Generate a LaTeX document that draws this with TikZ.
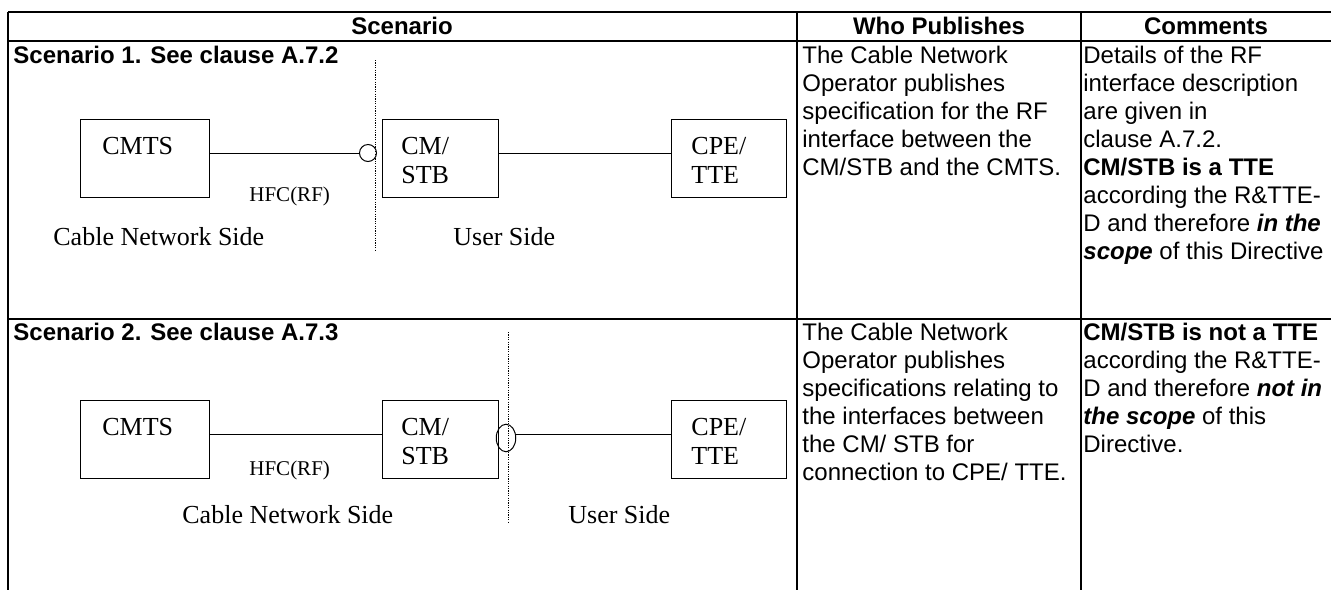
\documentclass[tikz,border=0pt]{standalone}
\usepackage{fontspec}
\setmainfont{Liberation Serif}
\setsansfont{Liberation Sans}
\usepackage{tikz}
\usetikzlibrary{shapes.geometric}
\usetikzlibrary{positioning}

\begin{document}
\begin{tikzpicture}[x=0.5pt,y=-0.5pt,node distance=86pt,
          gridline/.style={line width=0.65pt},
          box/.style={draw,line width=0.5pt,minimum height=39pt,inner sep=0pt},
          dev/.style={font=\fontsize{13}{14.5}\selectfont,anchor=north west,inner sep=0pt,align=left},
          sidelabel/.style={font=\fontsize{13}{14.5}\selectfont,anchor=base west,inner sep=0pt},
          hfc/.style={font=\fontsize{10.5}{12}\selectfont,anchor=base west,inner sep=0pt},
          head/.style={font=\sffamily\bfseries\fontsize{12}{14}\selectfont,anchor=base,inner sep=0pt},
          cell/.style={font=\sffamily\fontsize{12}{14}\selectfont,anchor=north west,inner sep=0pt,align=left},
          wire/.style={line width=0.5pt},
          sidesplit/.style={line width=0.5pt,dash pattern=on 0.6pt off 0.6pt}]
          \useasboundingbox (0,0) rectangle (1331,590);
          \draw[gridline] (8,12) -- (1331,12) (8,41) -- (1331,41) (8,319) -- (1331,319);
          \foreach \x in {8,797,1081} \draw[gridline] (\x,12) -- (\x,590);
          \node[head](hscen) at (402,34) {Scenario};
          \node[head](hwho) at (939,34) {Who Publishes};
          \node[head](hcom) at (1206,34) {Comments};
          % scenario 1
          \node[head,anchor=base west](titleA) at (13,63) {Scenario 1. See clause A.7.2};
          \node[box,minimum width=64.5pt,anchor=north west](cmtsA) at (80,119) {};
          \node[box,minimum width=58pt,right=of cmtsA](cmA) {};
          \node[box,minimum width=57.5pt,right=of cmA](cpeA) {};
          \node[dev](cmtsAtxt) at ([shift={(22,18)}]cmtsA.north west) {CMTS};
          \node[dev](cmAtxt) at ([shift={(19,18)}]cmA.north west) {CM/\\STB};
          \node[dev](cpeAtxt) at ([shift={(20,18)}]cpeA.north west) {CPE/\\TTE};
          \node[draw,circle,wire,minimum size=8.5pt,inner sep=0pt](jackA) at (368,153) {};
          \draw[wire](jackA.west) -- (jackA.west -| cmtsA.east);
          \draw[wire]([yshift=2.75pt]cmA.east) -- ([yshift=2.75pt]cpeA.west);
          \coordinate (cutAtop) at (375,60);
          \coordinate (cutAbot) at (375,250);
          \draw[sidesplit](cutAtop) -- (cutAbot);
          \node[hfc](hfcA) at (249,201) {HFC(RF)};
          \node[sidelabel](netA) at (53,245) {Cable Network Side};
          \node[sidelabel](userA) at (453,245) {User Side};
          \node[cell](whoA) at (802,46) {The Cable Network\\Operator publishes\\specification for the RF\\interface between the\\CM/STB and the CMTS.};
          \node[cell](comA) at (1083,46) {Details of the RF\\interface description\\are given in\\clause A.7.2.\\\textbf{CM/STB is a TTE}\\according the R\&TTE-\\D and therefore \textbf{\textit{in the}}\\\textbf{\textit{scope}} of this Directive};
          % scenario 2
          \node[head,anchor=base west](titleB) at (13,340) {Scenario 2. See clause A.7.3};
          \node[box,minimum width=64.5pt,anchor=north west](cmtsB) at (80,400) {};
          \node[box,minimum width=58pt,right=of cmtsB](cmB) {};
          \node[box,minimum width=57.5pt,right=of cmB](cpeB) {};
          \node[dev](cmtsBtxt) at ([shift={(22,18)}]cmtsB.north west) {CMTS};
          \node[dev](cmBtxt) at ([shift={(19,18)}]cmB.north west) {CM/\\STB};
          \node[dev](cpeBtxt) at ([shift={(20,18)}]cpeB.north west) {CPE/\\TTE};
          \node[draw,ellipse,wire,minimum width=9.75pt,minimum height=13.75pt,inner sep=0pt](jackB) at (506,438) {};
          \draw[wire]([yshift=2.75pt]cmtsB.east) -- ([yshift=2.75pt]cmB.west);
          \draw[wire]([yshift=2.75pt]cpeB.west) -- ([yshift=2.75pt]cpeB.west -| jackB.east);
          \coordinate (cutBtop) at (508,332);
          \coordinate (cutBbot) at (508,522);
          \draw[sidesplit](cutBtop) -- (cutBbot);
          \node[hfc](hfcB) at (249,475) {HFC(RF)};
          \node[sidelabel](netB) at (182,523) {Cable Network Side};
          \node[sidelabel](userB) at (568,523) {User Side};
          \node[cell](whoB) at (802,323) {The Cable Network\\Operator publishes\\specifications relating to\\the interfaces between\\the CM/ STB for\\connection to CPE/ TTE.};
          \node[cell](comB) at (1083,323) {\textbf{CM/STB is not a TTE}\\according the R\&TTE-\\D and therefore \textbf{\textit{not in}}\\\textbf{\textit{the scope}} of this\\Directive.};
        \end{tikzpicture}
\end{document}
